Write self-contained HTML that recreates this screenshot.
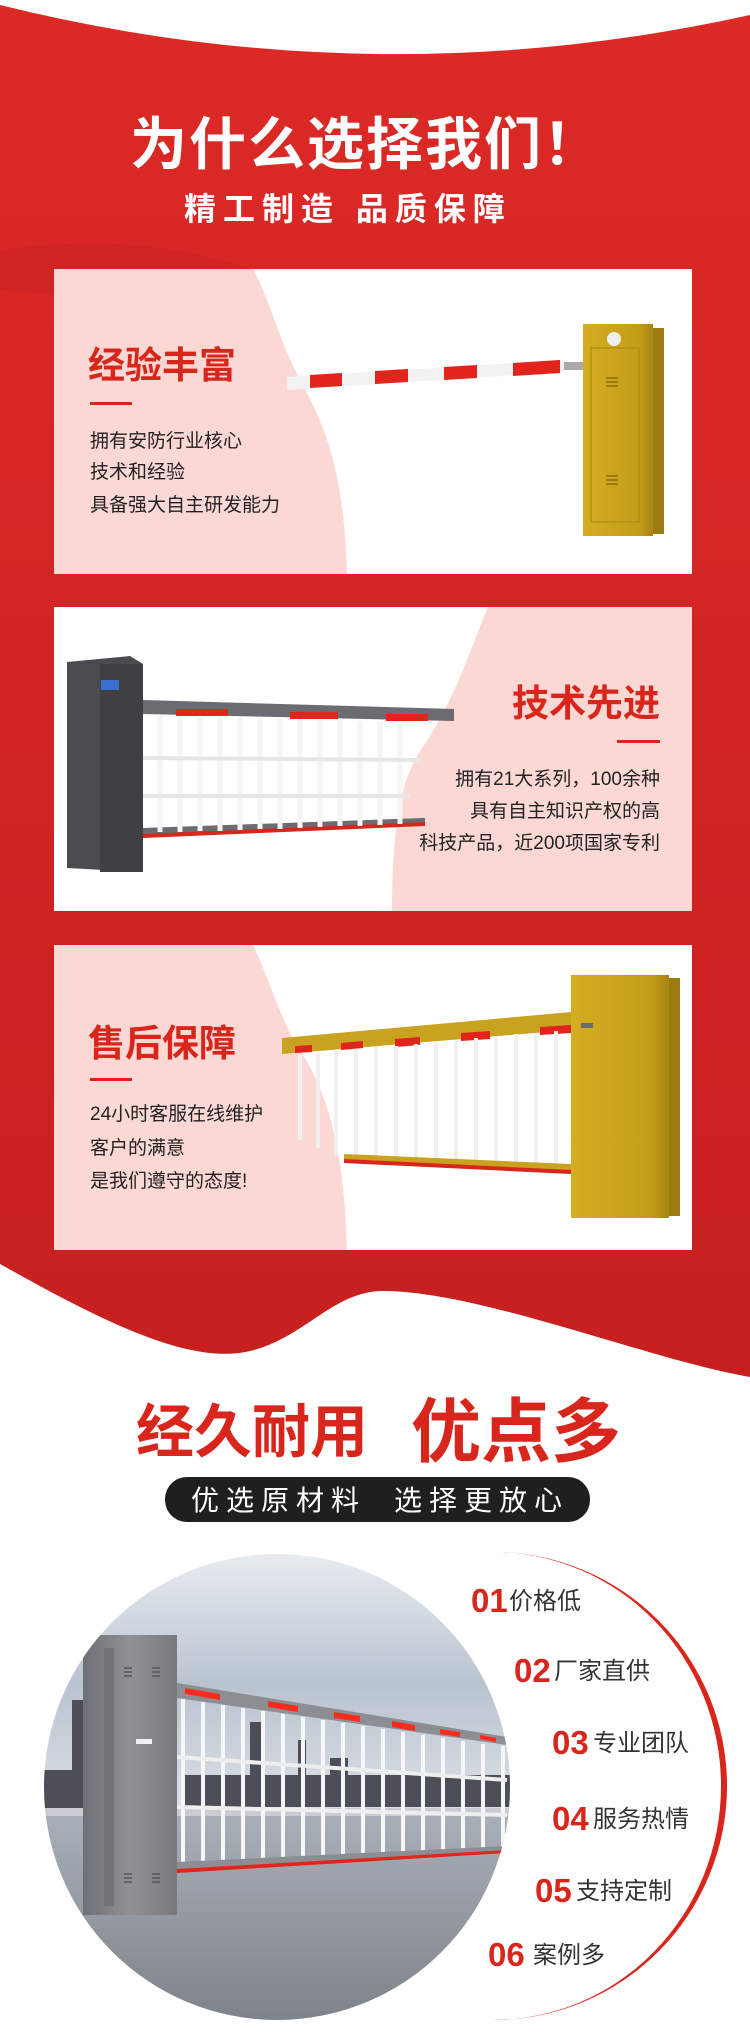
<!DOCTYPE html>
<html><head><meta charset="utf-8"><style>
html,body{margin:0;padding:0;width:750px;height:2042px;overflow:hidden;background:#fff}
svg{display:block}
text{font-family:"Liberation Sans","Noto Sans CJK SC",sans-serif}
</style></head><body>
<svg width="750" height="2042" viewBox="0 0 750 2042" xmlns="http://www.w3.org/2000/svg">
<defs>
<linearGradient id="rg" x1="0" y1="0" x2="0" y2="1"><stop offset="0" stop-color="#dc2a26"/><stop offset="1" stop-color="#c71f1f"/></linearGradient>
<linearGradient id="sky" x1="0" y1="0" x2="0" y2="1"><stop offset="0" stop-color="#e9edf2"/><stop offset="0.5" stop-color="#b9c3cf"/><stop offset="1" stop-color="#dfe3e8"/></linearGradient>
<linearGradient id="gnd" x1="0" y1="0" x2="0" y2="1"><stop offset="0" stop-color="#a9afb8"/><stop offset="1" stop-color="#7d828a"/></linearGradient>
<linearGradient id="yel" x1="0" y1="0" x2="1" y2="0"><stop offset="0" stop-color="#d4ad22"/><stop offset="0.8" stop-color="#c49d18"/><stop offset="1" stop-color="#a88412"/></linearGradient>
<linearGradient id="gry" x1="0" y1="0" x2="1" y2="0"><stop offset="0" stop-color="#6e7075"/><stop offset="0.5" stop-color="#8f9196"/><stop offset="1" stop-color="#77797e"/></linearGradient>
<clipPath id="cc"><circle cx="277" cy="1787" r="233"/></clipPath>
</defs>
<!-- red background -->
<path d="M0,0 H750 V1377 C650,1360 480,1291 383,1291 C330,1291 300,1345 239,1353 C180,1360 100,1320 0,1264 Z" fill="url(#rg)"/>
<path d="M0,250 C150,230 250,260 320,300 C240,320 120,300 0,290 Z" fill="#c82121" opacity="0.5"/>
<path d="M0,0 H750 V15 Q375,98 0,5 Z" fill="#fff"/>
<!-- title -->
<text x="366" y="164" font-size="57" font-weight="700" fill="#fff" text-anchor="middle" letter-spacing="2">为什么选择我们！</text>
<text x="184" y="220" font-size="32" font-weight="700" fill="#fff" letter-spacing="7">精工制造  品质保障</text>

<!-- card 1 -->
<rect x="54" y="269" width="638" height="305" fill="#fff"/>
<path d="M54,269 H253 C270,300 275,330 300,380 C325,425 344,470 347,574 H54 Z" fill="#fcd8d5"/>
<text x="88" y="378" font-size="37" font-weight="700" fill="#d9261c">经验丰富</text>
<rect x="90" y="402" width="42" height="3" fill="#d9261c"/>
<g font-size="19" fill="#222"><text x="90" y="447">拥有安防行业核心</text><text x="90" y="478">技术和经验</text><text x="90" y="511">具备强大自主研发能力</text></g>
<polygon points="287,377 564,360 564,372 287,390" fill="#f2f2f2"/>
<g fill="#e3241c"><polygon points="310,375 342,373 342,386 310,388"/><polygon points="375,371 408,369 408,382 375,384"/><polygon points="444,367 477,365 477,378 444,380"/><polygon points="513,363 560,360 560,373 513,376"/></g>
<rect x="564" y="362" width="20" height="8" fill="#aaa"/>
<rect x="583" y="324" width="70" height="212" fill="url(#yel)"/>
<rect x="653" y="328" width="11" height="206" fill="#9c7c10"/>
<rect x="591" y="348" width="48" height="174" fill="none" stroke="#a8860f" stroke-width="1"/>
<circle cx="614" cy="339" r="7" fill="#eee"/>
<g stroke="#8a6c0a" stroke-width="1.5"><line x1="606" y1="378" x2="618" y2="378"/><line x1="606" y1="382" x2="618" y2="382"/><line x1="606" y1="386" x2="618" y2="386"/><line x1="606" y1="476" x2="618" y2="476"/><line x1="606" y1="480" x2="618" y2="480"/><line x1="606" y1="484" x2="618" y2="484"/></g>

<!-- card 2 -->
<rect x="54" y="607" width="638" height="304" fill="#fff"/>
<path d="M692,607 H488 C470,650 455,700 421,750 C400,780 392,830 392,911 H692 Z" fill="#fcd8d5"/>
<g fill="#6b6c70">
<polygon points="143,700 454,709 454,721 143,714"/>
<polygon points="143,828 425,818 425,825 143,837"/>
</g>
<polygon points="143,834 425,822 425,826 143,838" fill="#d9261c"/>
<g fill="#e3241c"><rect x="176" y="709" width="52" height="7"/><rect x="290" y="712" width="48" height="7"/><rect x="386" y="714" width="42" height="7"/></g>
<g stroke="#f5f5f5" stroke-width="5">
<line x1="160" y1="716" x2="160" y2="832"/><line x1="180" y1="716" x2="180" y2="832"/><line x1="200" y1="717" x2="200" y2="831"/><line x1="220" y1="717" x2="220" y2="831"/><line x1="240" y1="718" x2="240" y2="830"/><line x1="260" y1="718" x2="260" y2="829"/><line x1="280" y1="719" x2="280" y2="829"/><line x1="300" y1="719" x2="300" y2="828"/><line x1="320" y1="720" x2="320" y2="827"/><line x1="340" y1="720" x2="340" y2="826"/><line x1="360" y1="721" x2="360" y2="826"/><line x1="380" y1="721" x2="380" y2="825"/><line x1="400" y1="722" x2="400" y2="824"/>
</g>
<g stroke="#e6e6e6" stroke-width="4"><line x1="143" y1="758" x2="420" y2="760"/><line x1="143" y1="796" x2="410" y2="796"/></g>
<polygon points="67,662 130,656 143,664 143,872 67,868" fill="#4a4b4f"/>
<rect x="100" y="664" width="43" height="208" fill="#3f4044"/>
<rect x="101" y="680" width="18" height="10" fill="#3a6fd0"/>
<text x="660" y="716" font-size="37" font-weight="700" fill="#d9261c" text-anchor="end">技术先进</text>
<rect x="617" y="740" width="43" height="3" fill="#d9261c"/>
<g font-size="19" fill="#222" text-anchor="end"><text x="660" y="785">拥有21大系列，100余种</text><text x="660" y="817">具有自主知识产权的高</text><text x="660" y="849">科技产品，近200项国家专利</text></g>

<!-- card 3 -->
<rect x="54" y="945" width="638" height="305" fill="#fff"/>
<path d="M54,945 H253 C270,980 280,1020 300,1050 C325,1090 344,1140 347,1250 H54 Z" fill="#fcd8d5"/>
<polygon points="282,1038 571,1012 571,1030 282,1054" fill="#c9a21f"/>
<g fill="#e3241c"><polygon points="295,1046 312,1045 312,1052 295,1053"/><polygon points="341,1043 363,1041 363,1048 341,1050"/><polygon points="395,1039 420,1037 420,1045 395,1047"/><polygon points="461,1033 490,1031 490,1039 461,1041"/><polygon points="540,1027 571,1025 571,1033 540,1035"/></g>
<g stroke="#f0f0f0" stroke-width="4">
<line x1="300" y1="1054" x2="300" y2="1140"/><line x1="318" y1="1053" x2="318" y2="1148"/><line x1="336" y1="1051" x2="336" y2="1156"/><line x1="356" y1="1049" x2="356" y2="1157"/><line x1="376" y1="1047" x2="376" y2="1158"/><line x1="396" y1="1046" x2="396" y2="1159"/><line x1="416" y1="1044" x2="416" y2="1160"/><line x1="436" y1="1042" x2="436" y2="1161"/><line x1="456" y1="1040" x2="456" y2="1162"/><line x1="476" y1="1038" x2="476" y2="1163"/><line x1="496" y1="1036" x2="496" y2="1164"/><line x1="516" y1="1034" x2="516" y2="1165"/><line x1="536" y1="1033" x2="536" y2="1166"/><line x1="556" y1="1031" x2="556" y2="1167"/>
</g>
<polygon points="344,1154 571,1164 571,1172 344,1160" fill="#c9a21f"/>
<polygon points="344,1159 571,1170 571,1174 344,1163" fill="#d9261c"/>
<rect x="571" y="975" width="98" height="243" fill="url(#yel)"/>
<rect x="669" y="978" width="11" height="238" fill="#9c7c10"/>
<rect x="581" y="1023" width="12" height="5" fill="#6d6d6d"/>
<text x="88" y="1056" font-size="37" font-weight="700" fill="#d9261c">售后保障</text>
<rect x="90" y="1078" width="42" height="3" fill="#d9261c"/>
<g font-size="19" fill="#222"><text x="90" y="1120">24小时客服在线维护</text><text x="90" y="1154">客户的满意</text><text x="90" y="1187">是我们遵守的态度!</text></g>

<!-- section 2 -->
<text x="136" y="1452" font-size="58" font-weight="700" fill="#d9261c">经久耐用</text>
<text x="411" y="1456" font-size="70" font-weight="700" fill="#d9261c">优点多</text>
<rect x="165" y="1477" width="425" height="45" rx="22" fill="#1f1f1f"/>
<text x="191" y="1510" font-size="28" fill="#fff" letter-spacing="7">优选原材料</text>
<text x="394" y="1510" font-size="28" fill="#fff" letter-spacing="7">选择更放心</text>

<!-- red arc -->
<path d="M493,1552 A234,234 0 0 1 493,2020 A230,234 0 0 0 493,1552 Z" fill="#d9261c"/>
<path d="M493,1552 A234,234 0 0 1 727,1786 L721,1786 A228,234 0 0 0 493,1552 Z" fill="#d9261c"/>
<path d="M727,1786 A234,234 0 0 1 493,2020 A228,234 0 0 0 721,1786 Z" fill="#d9261c"/>

<!-- photo circle -->
<g clip-path="url(#cc)">
<rect x="40" y="1550" width="480" height="270" fill="url(#sky)"/>
<rect x="40" y="1815" width="480" height="210" fill="url(#gnd)"/>
<g fill="#4c4f57"><rect x="44" y="1770" width="40" height="40"/><rect x="72" y="1700" width="14" height="110"/><rect x="183" y="1775" width="330" height="32"/><rect x="250" y="1722" width="12" height="60"/><rect x="298" y="1740" width="8" height="40"/><rect x="330" y="1758" width="18" height="30"/></g>
<rect x="40" y="1808" width="480" height="8" fill="#c9ccd2"/>
<polygon points="177,1683 507,1737 507,1745 177,1698" fill="#8c8e93"/>
<g fill="#ff2a1e"><polygon points="185,1688 220,1694 220,1700 185,1694"/><polygon points="268,1701 298,1706 298,1712 268,1707"/><polygon points="334,1712 360,1716 360,1722 334,1718"/><polygon points="392,1721 415,1725 415,1731 392,1727"/><polygon points="440,1729 460,1732 460,1737 440,1734"/><polygon points="480,1735 496,1738 496,1742 480,1739"/></g>
<g stroke="#f7f7f7" stroke-width="4">
<line x1="183" y1="1699" x2="183" y2="1864"/><line x1="203" y1="1702" x2="203" y2="1863"/><line x1="223" y1="1705" x2="223" y2="1862"/><line x1="243" y1="1708" x2="243" y2="1861"/><line x1="263" y1="1711" x2="263" y2="1860"/><line x1="283" y1="1714" x2="283" y2="1859"/><line x1="303" y1="1717" x2="303" y2="1858"/><line x1="323" y1="1720" x2="323" y2="1857"/><line x1="343" y1="1723" x2="343" y2="1856"/><line x1="363" y1="1726" x2="363" y2="1855"/><line x1="383" y1="1729" x2="383" y2="1854"/><line x1="403" y1="1732" x2="403" y2="1853"/><line x1="423" y1="1735" x2="423" y2="1852"/><line x1="443" y1="1738" x2="443" y2="1851"/><line x1="463" y1="1741" x2="463" y2="1850"/><line x1="483" y1="1744" x2="483" y2="1849"/><line x1="503" y1="1746" x2="503" y2="1848"/>
</g>
<g stroke="#eeeeee" stroke-width="4"><line x1="177" y1="1757" x2="507" y2="1780"/><line x1="177" y1="1807" x2="507" y2="1815"/></g>
<polygon points="177,1862 507,1846 507,1852 177,1873" fill="#8c8e93"/>
<polygon points="177,1869 507,1850 507,1853 177,1873" fill="#e3241c"/>
<rect x="83" y="1635" width="94" height="280" fill="url(#gry)"/>
<rect x="104" y="1648" width="10" height="258" fill="#707277"/>
<rect x="136" y="1739" width="16" height="5" fill="#f2f2f2"/>
<g stroke="#555" stroke-width="1.5"><line x1="124" y1="1668" x2="132" y2="1668"/><line x1="124" y1="1672" x2="132" y2="1672"/><line x1="124" y1="1676" x2="132" y2="1676"/><line x1="152" y1="1668" x2="160" y2="1668"/><line x1="152" y1="1672" x2="160" y2="1672"/><line x1="152" y1="1676" x2="160" y2="1676"/><line x1="124" y1="1874" x2="132" y2="1874"/><line x1="124" y1="1878" x2="132" y2="1878"/><line x1="124" y1="1882" x2="132" y2="1882"/><line x1="152" y1="1874" x2="160" y2="1874"/><line x1="152" y1="1878" x2="160" y2="1878"/><line x1="152" y1="1882" x2="160" y2="1882"/></g>
</g>

<!-- list -->
<g font-size="33" font-weight="700" fill="#d9261c">
<text x="471" y="1612">01</text><text x="514" y="1682">02</text><text x="552" y="1754">03</text><text x="552" y="1830">04</text><text x="535" y="1902">05</text><text x="488" y="1966">06</text>
</g>
<g font-size="24" fill="#333">
<text x="509" y="1609">价格低</text><text x="554" y="1679">厂家直供</text><text x="593" y="1751">专业团队</text><text x="593" y="1827">服务热情</text><text x="576" y="1899">支持定制</text><text x="533" y="1963">案例多</text>
</g>
</svg>
</body></html>
